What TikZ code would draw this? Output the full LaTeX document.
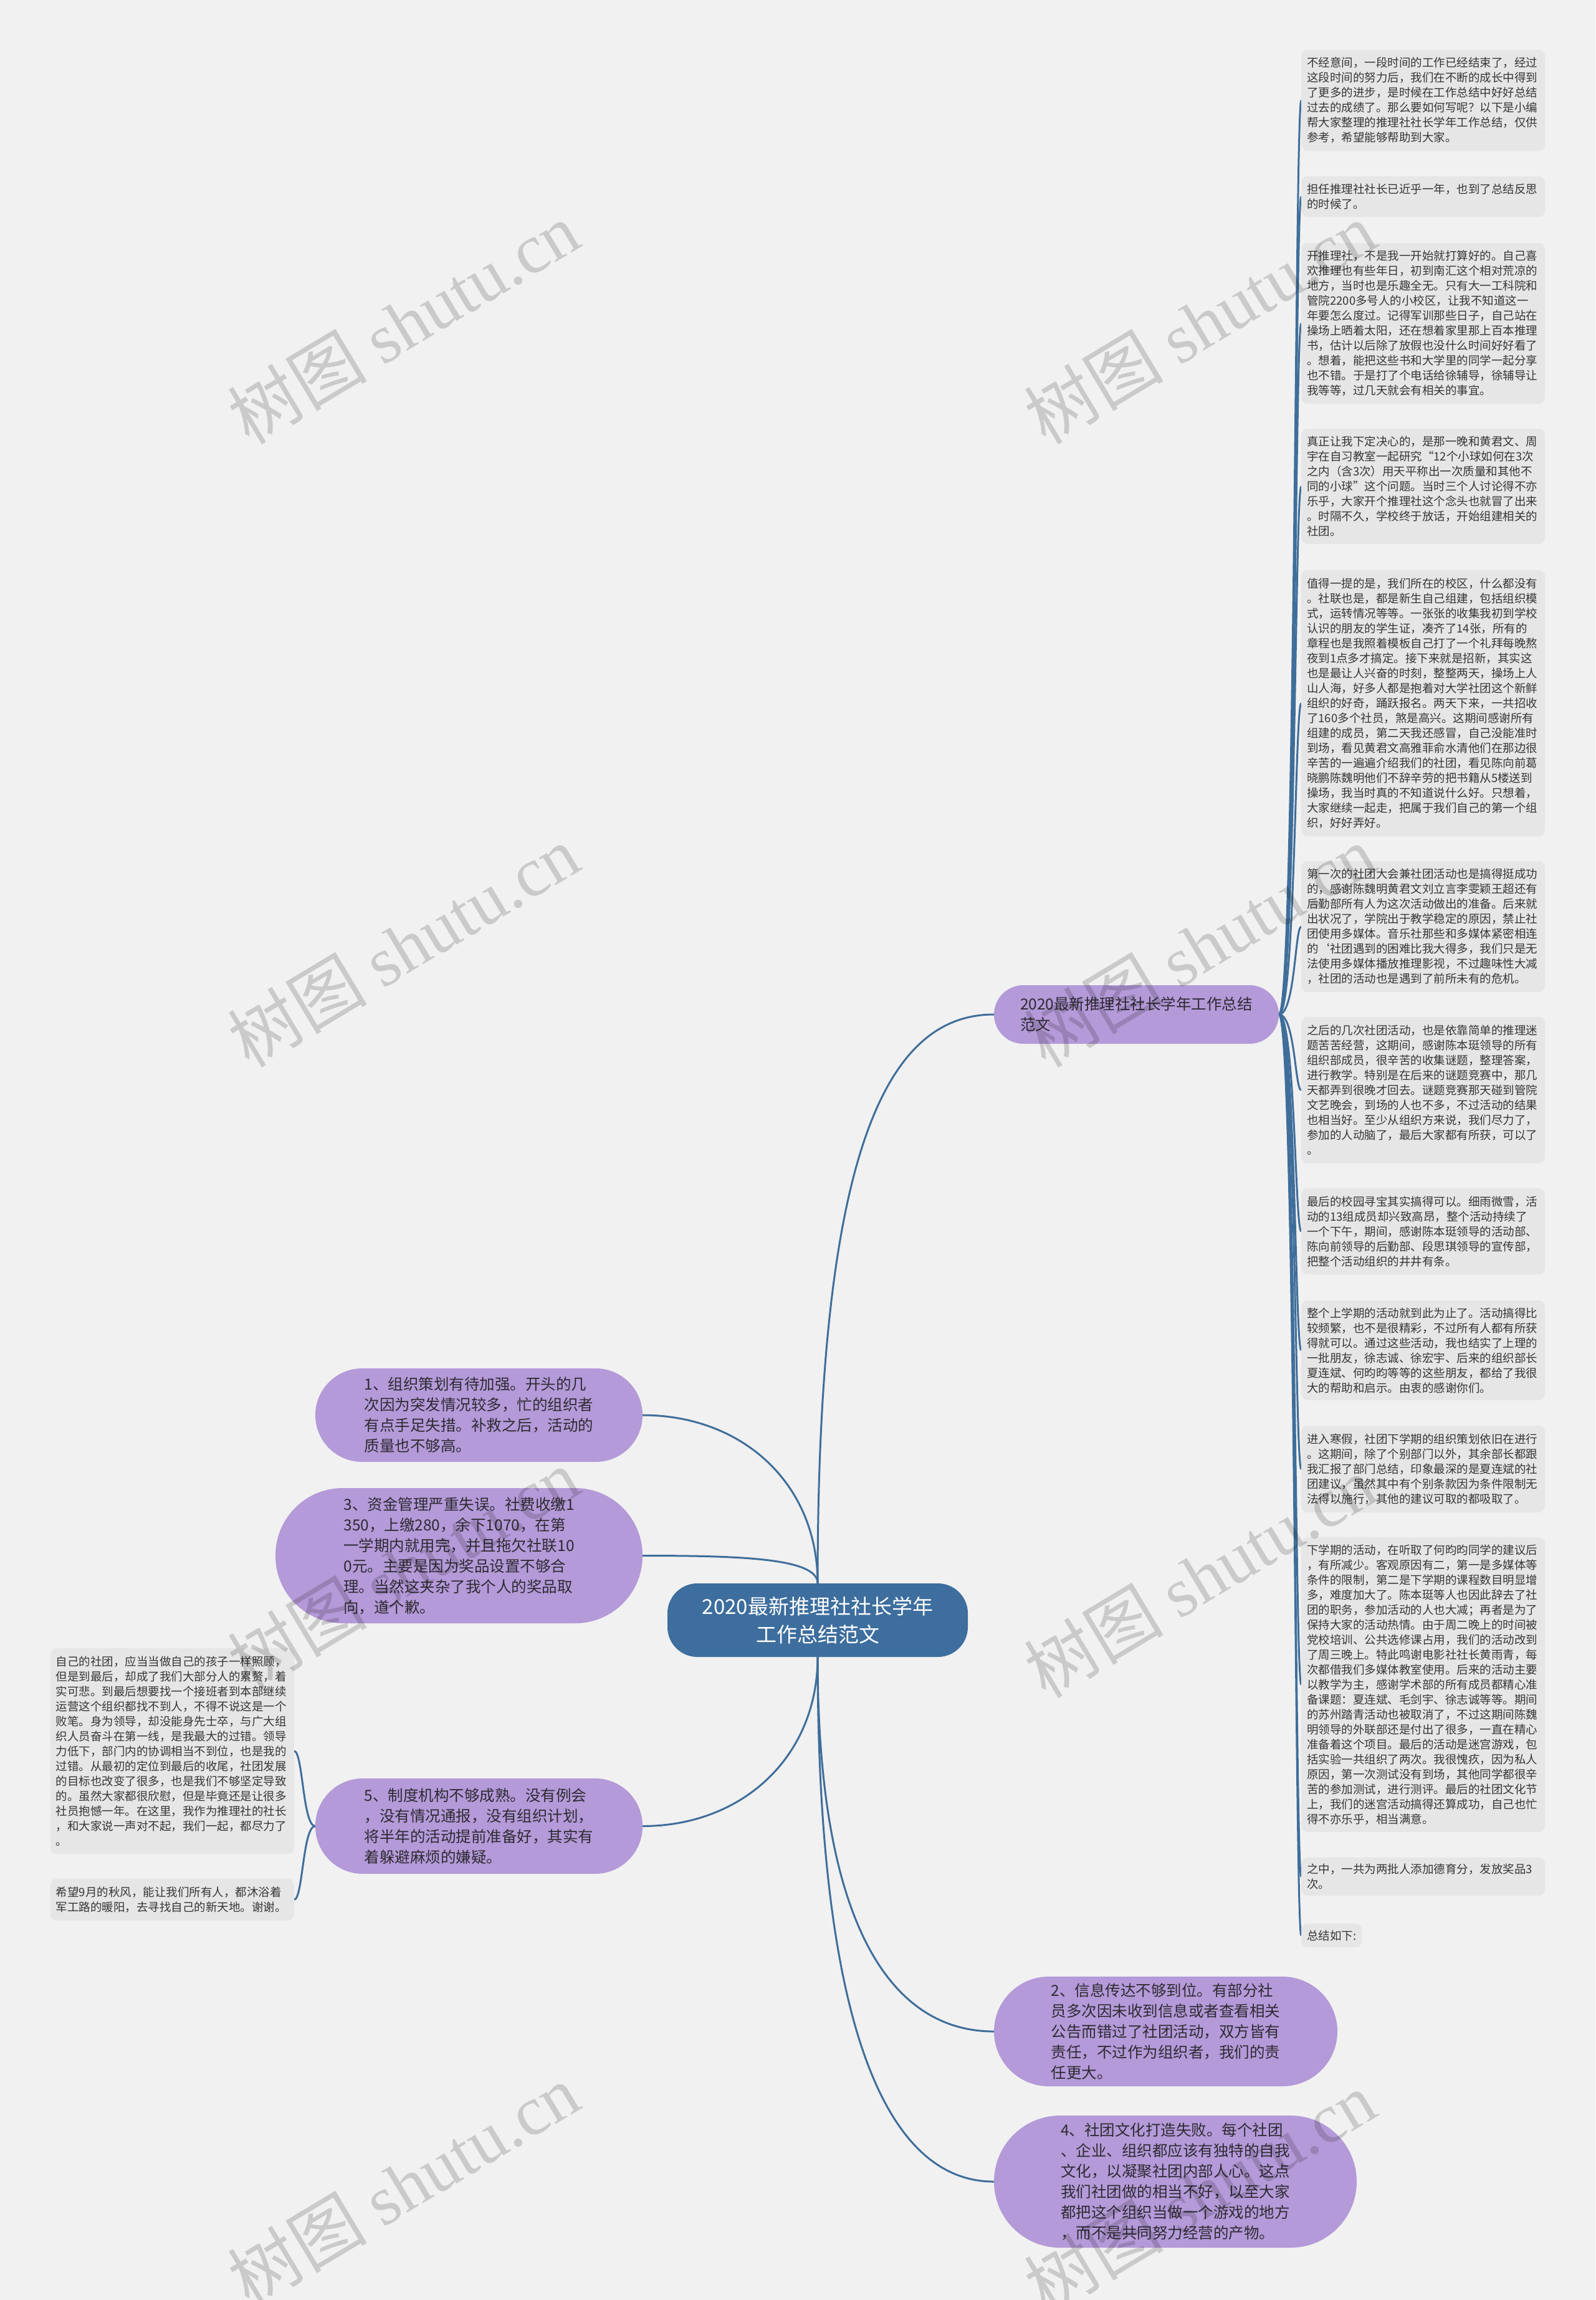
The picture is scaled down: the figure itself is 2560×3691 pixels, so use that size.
\documentclass[tikz,border=0pt]{standalone}
\usepackage{fontspec}
\setmainfont{Noto Sans CJK SC}
\newfontfamily\wmlatin{Liberation Serif}
\definecolor{bgcol}{HTML}{F1F1F1}
\definecolor{boxcol}{HTML}{E6E6E6}
\definecolor{txtcol}{HTML}{363636}
\definecolor{cblue}{HTML}{3D6E9E}
\definecolor{lcol}{HTML}{3F6E9A}
\definecolor{purp}{HTML}{B49AD8}
\definecolor{ptext}{HTML}{2E2A33}
\pgfdeclarelayer{bgl}
\pgfdeclarelayer{lines}
\pgfdeclarelayer{wm}
\pgfsetlayers{bgl,lines,main,wm}
\tikzset{
  rbox/.style={fill=boxcol, rounded corners=10pt, inner xsep=9pt, inner ysep=0pt, text width=373pt, align=left, text=txtcol, font=\fontsize{18.5}{24}\selectfont},
  pnode/.style={fill=purp, text=ptext, align=left, inner sep=0pt, font=\fontsize{24.5}{33}\selectfont},
  cnode/.style={fill=cblue, text=white, align=center, inner sep=0pt, rounded corners=48pt, minimum width=482pt, minimum height=118pt, font=\fontsize{33}{45}\selectfont},
  conn/.style={draw=lcol, line width=3pt},
  wmark/.style={rotate=31, text=black, text opacity=0.16, inner sep=0pt, font=\fontsize{112}{112}\selectfont}
}
\begin{document}
\begin{tikzpicture}[x=1pt,y=-1pt]
\useasboundingbox (0,0) rectangle (2560,3691);
\begin{pgfonlayer}{bgl}
\fill[bgcol] (0,0) rectangle (2560,3691);
\end{pgfonlayer}

% central node
\node[cnode] (c) at (1312,2600) {2020最新推理社社长学年\\工作总结范文};

% top branch
\node[pnode, minimum width=457pt, minimum height=94pt, rounded corners=47pt] (top) at (1823.5,1628) {2020最新推理社社长学年工作总结\\范文};

% left branches
\node[pnode, minimum width=525pt, minimum height=150pt, rounded corners=75pt] (l1) at (768.5,2271) {1、组织策划有待加强。开头的几\\次因为突发情况较多，忙的组织者\\有点手足失措。补救之后，活动的\\质量也不够高。};
\node[pnode, minimum width=589pt, minimum height=217pt, rounded corners=108pt] (l3) at (736.5,2496.5) {3、资金管理严重失误。社费收缴1\\350，上缴280，余下1070，在第\\一学期内就用完，并且拖欠社联10\\0元。主要是因为奖品设置不够合\\理。当然这夹杂了我个人的奖品取\\向，道个歉。};
\node[pnode, minimum width=525pt, minimum height=153pt, rounded corners=76pt] (l5) at (768.5,2930.5) {5、制度机构不够成熟。没有例会\\，没有情况通报，没有组织计划，\\将半年的活动提前准备好，其实有\\着躲避麻烦的嫌疑。};

% bottom right branches
\node[pnode, minimum width=551pt, minimum height=176pt, rounded corners=88pt] (r2) at (1870.5,3260) {2、信息传达不够到位。有部分社\\员多次因未收到信息或者查看相关\\公告而错过了社团活动，双方皆有\\责任，不过作为组织者，我们的责\\任更大。};
\node[pnode, minimum width=582pt, minimum height=212pt, rounded corners=106pt] (r4) at (1886,3501) {4、社团文化打造失败。每个社团\\、企业、组织都应该有独特的自我\\文化，以凝聚社团内部人心。这点\\我们社团做的相当不好，以至大家\\都把这个组织当做一个游戏的地方\\，而不是共同努力经营的产物。};

% right column boxes
\node[rbox, anchor=west, minimum height=162pt] (b1) at (2088,161) {不经意间，一段时间的工作已经结束了，经过\\这段时间的努力后，我们在不断的成长中得到\\了更多的进步，是时候在工作总结中好好总结\\过去的成绩了。那么要如何写呢？以下是小编\\帮大家整理的推理社社长学年工作总结，仅供\\参考，希望能够帮助到大家。};
\node[rbox, anchor=west, minimum height=65pt] (b2) at (2088,315.5) {担任推理社社长已近乎一年，也到了总结反思\\的时候了。};
\node[rbox, anchor=west, minimum height=258pt] (b3) at (2088,519) {开推理社，不是我一开始就打算好的。自己喜\\欢推理也有些年日，初到南汇这个相对荒凉的\\地方，当时也是乐趣全无。只有大一工科院和\\管院2200多号人的小校区，让我不知道这一\\年要怎么度过。记得军训那些日子，自己站在\\操场上晒着太阳，还在想着家里那上百本推理\\书，估计以后除了放假也没什么时间好好看了\\。想着，能把这些书和大学里的同学一起分享\\也不错。于是打了个电话给徐辅导，徐辅导让\\我等等，过几天就会有相关的事宜。};
\node[rbox, anchor=west, minimum height=185pt] (b4) at (2088,780.5) {真正让我下定决心的，是那一晚和黄君文、周\\宇在自习教室一起研究“12个小球如何在3次\\之内（含3次）用天平称出一次质量和其他不\\同的小球”这个问题。当时三个人讨论得不亦\\乐乎，大家开个推理社这个念头也就冒了出来\\。时隔不久，学校终于放话，开始组建相关的\\社团。};
\node[rbox, anchor=west, minimum height=427pt] (b5) at (2088,1128.5) {值得一提的是，我们所在的校区，什么都没有\\。社联也是，都是新生自己组建，包括组织模\\式，运转情况等等。一张张的收集我初到学校\\认识的朋友的学生证，凑齐了14张，所有的\\章程也是我照着模板自己打了一个礼拜每晚熬\\夜到1点多才搞定。接下来就是招新，其实这\\也是最让人兴奋的时刻，整整两天，操场上人\\山人海，好多人都是抱着对大学社团这个新鲜\\组织的好奇，踊跃报名。两天下来，一共招收\\了160多个社员，煞是高兴。这期间感谢所有\\组建的成员，第二天我还感冒，自己没能准时\\到场，看见黄君文高雅菲俞水清他们在那边很\\辛苦的一遍遍介绍我们的社团，看见陈向前葛\\晓鹏陈魏明他们不辞辛劳的把书籍从5楼送到\\操场，我当时真的不知道说什么好。只想着，\\大家继续一起走，把属于我们自己的第一个组\\织，好好弄好。};
\node[rbox, anchor=west, minimum height=210pt] (b6) at (2088,1487) {第一次的社团大会兼社团活动也是搞得挺成功\\的，感谢陈魏明黄君文刘立言李雯颖王超还有\\后勤部所有人为这次活动做出的准备。后来就\\出状况了，学院出于教学稳定的原因，禁止社\\团使用多媒体。音乐社那些和多媒体紧密相连\\的{\char"60}社团遇到的困难比我大得多，我们只是无\\法使用多媒体播放推理影视，不过趣味性大减\\，社团的活动也是遇到了前所未有的危机。};
\node[rbox, anchor=west, minimum height=235pt] (b7) at (2088,1749.5) {之后的几次社团活动，也是依靠简单的推理迷\\题苦苦经营，这期间，感谢陈本珽领导的所有\\组织部成员，很辛苦的收集谜题，整理答案，\\进行教学。特别是在后来的谜题竞赛中，那几\\天都弄到很晚才回去。谜题竞赛那天碰到管院\\文艺晚会，到场的人也不多，不过活动的结果\\也相当好。至少从组织方来说，我们尽力了，\\参加的人动脑了，最后大家都有所获，可以了\\。};
\node[rbox, anchor=west, minimum height=138pt] (b8) at (2088,1976) {最后的校园寻宝其实搞得可以。细雨微雪，活\\动的13组成员却兴致高昂，整个活动持续了\\一个下午，期间，感谢陈本珽领导的活动部、\\陈向前领导的后勤部、段思琪领导的宣传部，\\把整个活动组织的井井有条。};
\node[rbox, anchor=west, minimum height=160pt] (b9) at (2088,2167) {整个上学期的活动就到此为止了。活动搞得比\\较频繁，也不是很精彩，不过所有人都有所获\\得就可以。通过这些活动，我也结实了上理的\\一批朋友，徐志诚、徐宏宇、后来的组织部长\\夏连斌、何昀昀等等的这些朋友，都给了我很\\大的帮助和启示。由衷的感谢你们。};
\node[rbox, anchor=west, minimum height=139pt] (b10) at (2088,2357.5) {进入寒假，社团下学期的组织策划依旧在进行\\。这期间，除了个别部门以外，其余部长都跟\\我汇报了部门总结，印象最深的是夏连斌的社\\团建议，虽然其中有个别条款因为条件限制无\\法得以施行，其他的建议可取的都吸取了。};
\node[rbox, anchor=west, minimum height=473pt] (b11) at (2088,2703.5) {下学期的活动，在听取了何昀昀同学的建议后\\，有所减少。客观原因有二，第一是多媒体等\\条件的限制，第二是下学期的课程数目明显增\\多，难度加大了。陈本珽等人也因此辞去了社\\团的职务，参加活动的人也大减；再者是为了\\保持大家的活动热情。由于周二晚上的时间被\\党校培训、公共选修课占用，我们的活动改到\\了周三晚上。特此鸣谢电影社社长黄雨青，每\\次都借我们多媒体教室使用。后来的活动主要\\以教学为主，感谢学术部的所有成员都精心准\\备课题：夏连斌、毛剑宇、徐志诚等等。期间\\的苏州踏青活动也被取消了，不过这期间陈魏\\明领导的外联部还是付出了很多，一直在精心\\准备着这个项目。最后的活动是迷宫游戏，包\\括实验一共组织了两次。我很愧疚，因为私人\\原因，第一次测试没有到场，其他同学都很辛\\苦的参加测试，进行测评。最后的社团文化节\\上，我们的迷宫活动搞得还算成功，自己也忙\\得不亦乐乎，相当满意。};
\node[rbox, anchor=west, minimum height=61pt] (b12) at (2088,3011.5) {之中，一共为两批人添加德育分，发放奖品3\\次。};
\node[rbox, anchor=west, text width=, minimum height=38pt] (b13) at (2088,3106) {总结如下:};

% left column boxes
\node[rbox, anchor=east, minimum height=330pt] (lb1) at (472,2810) {自己的社团，应当当做自己的孩子一样照顾，\\但是到最后，却成了我们大部分人的累赘，着\\实可悲。到最后想要找一个接班者到本部继续\\运营这个组织都找不到人，不得不说这是一个\\败笔。身为领导，却没能身先士卒，与广大组\\织人员奋斗在第一线，是我最大的过错。领导\\力低下，部门内的协调相当不到位，也是我的\\过错。从最初的定位到最后的收尾，社团发展\\的目标也改变了很多，也是我们不够坚定导致\\的。虽然大家都很欣慰，但是毕竟还是让很多\\社员抱憾一年。在这里，我作为推理社的社长\\，和大家说一声对不起，我们一起，都尽力了\\。};
\node[rbox, anchor=east, minimum height=67pt] (lb2) at (472,3048.5) {希望9月的秋风，能让我们所有人，都沐浴着\\军工路的暖阳，去寻找自己的新天地。谢谢。};

% connectors
\begin{pgfonlayer}{lines}
\draw[conn] (c.north) .. controls +(0,-700) and +(-170,0) .. (top.west);
\draw[conn] (c.north) .. controls +(0,-160) and +(160,0) .. (l1.east);
\draw[conn] (c.north) .. controls +(0,-40) and +(160,0) .. (l3.east);
\draw[conn] (c.south) .. controls +(0,160) and +(160,0) .. (l5.east);
\draw[conn] (c.south) .. controls +(0,420) and +(-170,0) .. (r2.west);
\draw[conn] (c.south) .. controls +(0,600) and +(-170,0) .. (r4.west);
\foreach \b in {b1,b2,b3,b4,b5,b6,b7,b8,b9,b10,b11,b12,b13}{
  \draw[conn] (top.east) .. controls +(26,0) and +(-10,0) .. (\b.west);
}
\foreach \b in {lb1,lb2}{
  \draw[conn] (l5.east) ++(0,0) (l5.west) .. controls +(-20,0) and +(14,0) .. (\b.east);
}
\end{pgfonlayer}

% watermarks
\begin{pgfonlayer}{wm}
\foreach \px/\py [count=\i] in {647/518, 1925/518, 647/1518, 1925/1518, 647/2518, 1925/2530, 647/3506, 1925/3518}{
  \node[wmark] (wm\i) at (\px,\py) {树图 {\wmlatin shutu.cn}};
}
\end{pgfonlayer}
\end{tikzpicture}
\end{document}
